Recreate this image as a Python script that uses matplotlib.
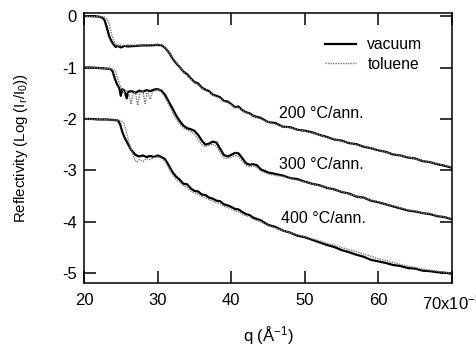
import matplotlib
matplotlib.use("Agg")
import matplotlib.pyplot as plt

plt.rcParams['font.family'] = ['Liberation Sans', 'DejaVu Sans']
plt.rcParams['mathtext.fontset'] = 'custom'
plt.rcParams['mathtext.rm'] = 'Liberation Sans'
plt.rcParams['mathtext.it'] = 'Liberation Sans'
plt.rcParams['axes.unicode_minus'] = False

# --- data (q in 10^-3 1/A, log reflectivity, offset by -1 per sample) ---

# 200 C anneal
q_200_vac = [20, 21, 22, 22.5, 22.8, 23.1, 23.4, 23.7, 24.0, 24.3, 24.6, 25, 25.5, 26, 27, 28, 29, 30,
             30.6, 31.1, 31.6, 32.1, 32.6, 33.0, 33.5, 34.0, 34.5, 35.0, 35.5, 36.0, 36.5, 37.0, 37.5,
             38.0, 38.5, 39.0, 39.5, 40.0, 40.5, 41.0, 41.5, 42.0, 42.5, 43, 44, 45, 46, 47, 48, 49, 50,
             51, 52, 53, 54, 55, 56, 57, 58, 59, 60, 61, 62, 63, 64, 65, 66, 67, 68, 69, 70]
r_200_vac = [0.00, 0.00, -0.01, -0.03, -0.08, -0.22, -0.38, -0.48, -0.55, -0.60, -0.58, -0.61, -0.58,
             -0.59, -0.58, -0.57, -0.57, -0.56, -0.57, -0.63, -0.72, -0.84, -0.93, -0.99, -1.08, -1.13,
             -1.21, -1.28, -1.31, -1.39, -1.43, -1.46, -1.53, -1.55, -1.58, -1.65, -1.66, -1.71, -1.77,
             -1.76, -1.83, -1.87, -1.89, -1.94, -1.98, -2.06, -2.08, -2.15, -2.16, -2.21, -2.23, -2.26,
             -2.31, -2.35, -2.40, -2.42, -2.47, -2.49, -2.54, -2.57, -2.61, -2.64, -2.69, -2.71, -2.75,
             -2.77, -2.82, -2.84, -2.88, -2.91, -2.95]

q_200_tol = [20, 21, 22, 22.8, 23.2, 23.5, 23.8, 24.1, 24.4, 24.7, 25.0, 25.5, 26, 27, 28, 29, 30,
             30.6, 31.1, 31.6, 32.1, 32.6, 33.0, 33.5, 34.0, 34.5, 35.0, 35.5, 36.0, 36.5, 37.0, 37.5,
             38.0, 38.5, 39.0, 39.5, 40.0, 40.5, 41.0, 41.5, 42.0, 42.5, 43, 44, 45, 46, 47, 48, 49, 50,
             51, 52, 53, 54, 55, 56, 57, 58, 59, 60, 61, 62, 63, 64, 65, 66, 67, 68, 69, 70]
r_200_tol = [0.00, -0.01, -0.01, -0.02, -0.06, -0.20, -0.38, -0.50, -0.55, -0.57, -0.56, -0.58, -0.56,
             -0.57, -0.56, -0.56, -0.55, -0.56, -0.62, -0.71, -0.82, -0.92, -0.98, -1.09, -1.15, -1.22,
             -1.30, -1.33, -1.40, -1.45, -1.48, -1.54, -1.57, -1.60, -1.66, -1.68, -1.72, -1.78, -1.78,
             -1.84, -1.88, -1.90, -1.95, -2.00, -2.06, -2.10, -2.15, -2.17, -2.21, -2.24, -2.27, -2.31,
             -2.36, -2.39, -2.43, -2.46, -2.50, -2.53, -2.57, -2.60, -2.65, -2.68, -2.71, -2.74, -2.78,
             -2.81, -2.84, -2.87, -2.90, -2.94]

# 300 C anneal
q_300_vac = [20, 21, 22, 23, 23.6, 23.9, 24.2, 24.5, 24.8, 25.0, 25.2, 25.5, 25.8, 26.0, 26.5, 27.0,
             27.5, 28.0, 28.5, 29.0, 29.5, 30.0, 30.5, 31.0, 31.5, 32.0, 32.5, 33.0, 33.5, 34.0, 34.5,
             35.0, 35.5, 36.0, 36.5, 37.0, 37.5, 38.0, 38.5, 39.0, 39.5, 40.0, 40.5, 41.0, 41.5, 42.0,
             42.5, 43.0, 43.5, 44, 45, 46, 47, 48, 49, 50, 51, 52, 53, 54, 55, 56, 57, 58, 59, 60, 61,
             62, 63, 64, 65, 66, 67, 68, 69, 70]
r_300_vac = [-1.00, -1.00, -1.01, -1.02, -1.03, -1.08, -1.22, -1.33, -1.40, -1.55, -1.42, -1.45, -1.60,
             -1.47, -1.46, -1.49, -1.45, -1.47, -1.44, -1.46, -1.43, -1.42, -1.45, -1.53, -1.66, -1.79,
             -1.93, -2.04, -2.13, -2.18, -2.20, -2.23, -2.31, -2.42, -2.50, -2.48, -2.44, -2.46, -2.58,
             -2.70, -2.73, -2.70, -2.66, -2.67, -2.76, -2.86, -2.89, -2.88, -2.90, -2.98, -3.04, -3.07,
             -3.10, -3.15, -3.17, -3.22, -3.26, -3.29, -3.34, -3.37, -3.42, -3.45, -3.51, -3.53, -3.59,
             -3.62, -3.66, -3.70, -3.74, -3.78, -3.80, -3.83, -3.85, -3.89, -3.91, -3.95]

q_300_tol = [20, 22, 23, 24.0, 24.3, 24.6, 24.9, 25.2, 25.5, 25.8, 26.1, 26.4, 26.7, 27.0, 27.3, 27.6,
             28.0, 28.3, 28.6, 29.0, 29.3, 29.7, 30.0, 30.5, 31.0, 31.5, 32.0, 32.5, 33.0, 33.5, 34.0,
             34.5, 35.0, 35.5, 36.0, 36.5, 37.0, 37.5, 38.0, 38.5, 39.0, 39.5, 40.0, 40.5, 41.0, 41.5,
             42.0, 42.5, 43, 43.5, 44, 45, 46, 47, 48, 49, 50, 51, 52, 53, 54, 55, 56, 57, 58, 59, 60,
             61, 62, 63, 64, 65, 66, 67, 68, 69, 70]
r_300_tol = [-1.00, -1.01, -1.02, -1.03, -1.08, -1.22, -1.35, -1.42, -1.50, -1.45, -1.52, -1.72, -1.48,
             -1.50, -1.74, -1.48, -1.47, -1.70, -1.46, -1.62, -1.47, -1.45, -1.43, -1.47, -1.58, -1.72,
             -1.86, -2.00, -2.10, -2.17, -2.22, -2.24, -2.30, -2.40, -2.50, -2.54, -2.51, -2.49, -2.53,
             -2.65, -2.76, -2.77, -2.74, -2.71, -2.73, -2.82, -2.90, -2.93, -2.92, -2.94, -3.01, -3.07,
             -3.10, -3.12, -3.16, -3.19, -3.23, -3.26, -3.30, -3.33, -3.38, -3.41, -3.46, -3.50, -3.54,
             -3.58, -3.61, -3.66, -3.69, -3.73, -3.77, -3.79, -3.83, -3.84, -3.88, -3.91, -3.94]

# 400 C anneal
q_400_vac = [20, 21, 22, 23, 24, 24.6, 24.9, 25.2, 25.5, 25.8, 26.1, 26.4, 26.7, 27.0, 27.5, 28.0,
             28.5, 29.0, 29.5, 30.0, 30.5, 31.0, 31.5, 32.0, 32.5, 33.0, 33.5, 34.0, 34.5, 35.0, 35.5,
             36.0, 36.5, 37.0, 37.5, 38.0, 38.5, 39.0, 39.5, 40.0, 40.5, 41.0, 41.5, 42.0, 42.5, 43,
             44, 45, 46, 47, 48, 49, 50, 51, 52, 53, 54, 55, 56, 57, 58, 59, 60, 61, 62, 63, 64, 65,
             66, 67, 68, 69, 70]
r_400_vac = [-2.00, -2.00, -2.01, -2.01, -2.02, -2.03, -2.10, -2.25, -2.36, -2.44, -2.52, -2.60, -2.65,
             -2.70, -2.73, -2.71, -2.74, -2.72, -2.74, -2.71, -2.74, -2.78, -2.90, -3.03, -3.12, -3.18,
             -3.26, -3.27, -3.35, -3.40, -3.41, -3.47, -3.48, -3.53, -3.55, -3.59, -3.60, -3.66, -3.68,
             -3.71, -3.75, -3.76, -3.81, -3.85, -3.87, -3.92, -3.97, -4.06, -4.10, -4.17, -4.21, -4.27,
             -4.30, -4.35, -4.40, -4.45, -4.49, -4.55, -4.59, -4.64, -4.68, -4.74, -4.77, -4.80, -4.84,
             -4.86, -4.90, -4.91, -4.95, -4.96, -4.98, -4.99, -5.01]

q_400_tol = [20, 22, 24, 25.0, 25.4, 25.7, 26.0, 26.3, 26.6, 26.9, 27.2, 27.5, 28.0, 28.5, 29.0, 29.5,
             30.0, 30.5, 31.0, 31.5, 32.0, 32.5, 33.0, 33.5, 34.0, 34.5, 35.0, 35.5, 36.0, 36.5, 37.0,
             37.5, 38.0, 38.5, 39.0, 39.5, 40.0, 40.5, 41.0, 41.5, 42.0, 42.5, 43, 44, 45, 46, 47, 48,
             49, 50, 51, 52, 53, 54, 55, 56, 57, 58, 59, 60, 61, 62, 63, 64, 65, 66, 67, 68, 69, 70]
r_400_tol = [-2.00, -2.01, -2.02, -2.03, -2.08, -2.22, -2.40, -2.55, -2.68, -2.80, -2.84, -2.79, -2.83,
             -2.77, -2.79, -2.75, -2.74, -2.76, -2.82, -2.95, -3.08, -3.17, -3.23, -3.30, -3.33, -3.40,
             -3.44, -3.46, -3.51, -3.53, -3.57, -3.60, -3.63, -3.65, -3.70, -3.72, -3.75, -3.79, -3.80,
             -3.85, -3.88, -3.90, -3.95, -4.00, -4.07, -4.12, -4.17, -4.21, -4.25, -4.29, -4.33, -4.37,
             -4.42, -4.45, -4.50, -4.54, -4.58, -4.63, -4.67, -4.72, -4.75, -4.79, -4.83, -4.86, -4.89,
             -4.92, -4.94, -4.96, -4.98, -5.00]

x_ticks = [20, 30, 40, 50, 60, 70]
x_tick_labels = ['20', '30', '40', '50', '60', '70x10$^{-3}$']
y_ticks = [0, -1, -2, -3, -4, -5]
sample_labels = ['200 °C/ann.', '300 °C/ann.', '400 °C/ann.']
label_pos = [(46.5, -1.90), (46.5, -2.88), (46.8, -3.93)]

fig = plt.figure(figsize=(4.76, 3.5), dpi=100)
ax = fig.add_axes([84 / 476, 1 - 283 / 350, 368 / 476, 270 / 350])

vac_style = dict(color='black', linewidth=1.6)
tol_style = dict(color='#7a7a7a', linewidth=1.0, linestyle=(0, (1, 0.8)))

ax.plot(q_200_vac, r_200_vac, label='vacuum', **vac_style)
ax.plot(q_200_tol, r_200_tol, label='toluene', **tol_style)
ax.plot(q_300_vac, r_300_vac, **vac_style)
ax.plot(q_300_tol, r_300_tol, **tol_style)
ax.plot(q_400_vac, r_400_vac, **vac_style)
ax.plot(q_400_tol, r_400_tol, **tol_style)

for txt, (qx, ry) in zip(sample_labels, label_pos):
    ax.text(qx, ry, txt, fontsize=11.5, ha='left', va='center')

ax.set_xlim(20, 70)
ax.set_ylim(-5.19, 0.06)
ax.set_xticks(x_ticks)
ax.set_xticklabels(x_tick_labels)
ax.set_yticks(y_ticks)
ax.tick_params(direction='in', length=8.5, width=1.1, labelsize=12,
               top=True, right=True)
ax.tick_params(axis='x', pad=7)
ax.tick_params(axis='y', pad=5)
for sp in ax.spines.values():
    sp.set_linewidth(1.1)

ax.set_xlabel('q (Å$^{-1}$)', fontsize=12)
ax.set_ylabel('Reflectivity (Log (I$_r$/I$_0$))', fontsize=10.8)
ax.xaxis.set_label_coords(0.5, -0.155)
ax.yaxis.set_label_coords(-0.147, 0.5)

ax.legend(loc='upper left', bbox_to_anchor=(325 / 476, 1 - 37 / 350),
          bbox_transform=fig.transFigure, frameon=False, fontsize=11.3,
          handlelength=2.0, handletextpad=0.7, labelspacing=0.3,
          borderpad=0, borderaxespad=0)

fig.savefig('out.png', dpi=100)
